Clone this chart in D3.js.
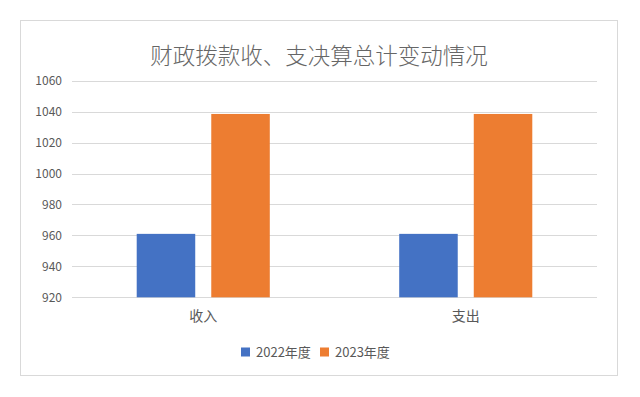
<!DOCTYPE html>
<html>
<head>
<meta charset="utf-8">
<script src="https://cdn.jsdelivr.net/npm/d3@7"></script>
<style>
  body { margin: 0; background: #fff; }
  text { font-family: "Noto Sans CJK SC", "Noto Sans", sans-serif; fill: #595959; }
</style>
</head>
<body>
<script>
// chart data
var categories = ["收入", "支出"];
var seriesNames = ["2022年度", "2023年度"];
var values2022 = [961, 961];
var values2023 = [1038.5, 1038.5];
var yTicks = [920, 940, 960, 980, 1000, 1020, 1040, 1060];
var colors = ["#4472C4", "#ED7D31"];

var width = 640, height = 397;

var svg = d3.select("body").append("svg")
    .attr("width", width)
    .attr("height", height);

// outer chart border
svg.append("rect")
    .attr("x", 20.5).attr("y", 20.5)
    .attr("width", 597).attr("height", 355)
    .attr("fill", "#fff")
    .attr("stroke", "#d9d9d9");

// title
svg.append("text")
    .attr("x", 319).attr("y", 64)
    .attr("text-anchor", "middle")
    .style("font-size", "22.5px")
    .style("font-weight", 300)
    .style("fill", "#666")
    .text("财政拨款收、支决算总计变动情况");

var x0 = d3.scaleBand()
    .domain(categories)
    .range([72, 597])
    .paddingInner(0.493)
    .paddingOuter(0.2465);

var x1 = d3.scaleBand()
    .domain(seriesNames)
    .range([0, x0.bandwidth()])
    .paddingInner(0.215);

var y = d3.scaleLinear()
    .domain([920, 1060])
    .range([297.3, 80.7]);

// gridlines
svg.append("g")
    .selectAll("line")
    .data(yTicks)
    .join("line")
    .attr("x1", 72).attr("x2", 597)
    .attr("y1", d => Math.round(y(d)) + 0.5)
    .attr("y2", d => Math.round(y(d)) + 0.5)
    .attr("stroke", "#d9d9d9");

// y axis labels
svg.append("g")
    .selectAll("text")
    .data(yTicks)
    .join("text")
    .attr("x", 62)
    .attr("y", d => y(d))
    .attr("dy", "0.35em")
    .attr("text-anchor", "end")
    .style("font-size", "12px")
    .text(d => d);

// bars
var rows = categories.map((c, i) => ({cat: c, vals: [values2022[i], values2023[i]]}));

var groups = svg.append("g")
    .selectAll("g")
    .data(rows)
    .join("g")
    .attr("transform", d => "translate(" + x0(d.cat) + ",0)");

groups.selectAll("rect")
    .data(d => d.vals.map((v, j) => ({name: seriesNames[j], v: v, j: j})))
    .join("rect")
    .attr("x", d => x1(d.name))
    .attr("y", d => y(d.v))
    .attr("width", x1.bandwidth())
    .attr("height", d => y(920) - y(d.v))
    .attr("fill", d => colors[d.j]);

// category labels
svg.append("g")
    .selectAll("text")
    .data(categories)
    .join("text")
    .attr("x", d => x0(d) + x0.bandwidth() / 2)
    .attr("y", 321)
    .attr("text-anchor", "middle")
    .style("font-size", "14px")
    .text(d => d);

// legend
var legendX = [241, 320];
var legend = svg.append("g")
    .selectAll("g")
    .data(seriesNames)
    .join("g")
    .attr("transform", (d, i) => "translate(" + legendX[i] + ",352)");

legend.append("rect")
    .attr("x", 0).attr("y", -4.5)
    .attr("width", 9).attr("height", 9)
    .attr("fill", (d, i) => colors[i]);

legend.append("text")
    .attr("x", 15)
    .attr("dy", "0.35em")
    .style("font-size", "13px")
    .text(d => d);
</script>
</body>
</html>
